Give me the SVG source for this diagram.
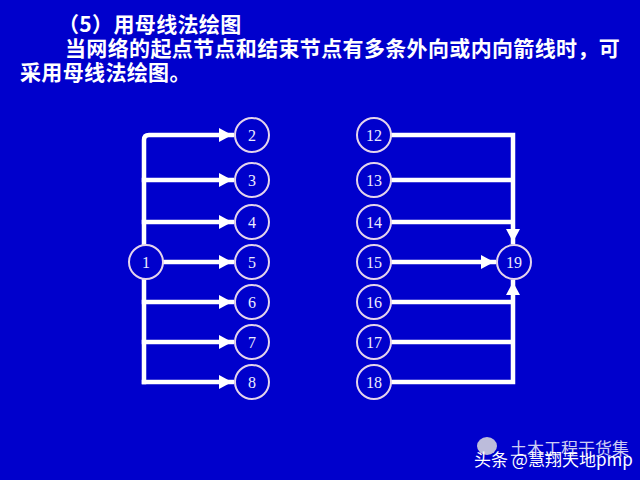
<svg xmlns="http://www.w3.org/2000/svg" width="640" height="480" viewBox="0 0 640 480">
<defs>
<style>
.t{font-family:"Noto Sans CJK SC",sans-serif;font-size:21px;fill:#ffffff;font-weight:bold;letter-spacing:0.35px}
.n circle{fill:#0000cc;stroke:#e4d4ec;stroke-width:2}
.n text{font-family:"Liberation Serif","DejaVu Serif",serif;font-size:16px;fill:#ececff;text-anchor:middle}
.c{stroke:#ffffff;stroke-width:4.5;fill:none;stroke-linecap:square}
.w{font-family:"Noto Sans CJK SC",sans-serif;font-size:17px;fill:#ffffff}
</style>
<marker id="ah" markerWidth="13" markerHeight="14" refX="13" refY="7" orient="auto" markerUnits="userSpaceOnUse">
<path d="M0,0 L13,7 L0,14 Z" fill="#ffffff"/>
</marker>
</defs>
<rect width="640" height="480" fill="#0000cc"/>
<text class="t" x="58" y="32">（5）用母线法绘图</text>
<text class="t" x="65" y="56">当网络的起点节点和结束节点有多条外向或内向箭线时，可</text>
<text class="t" x="20" y="80">采用母线法绘图。</text>
<g id="connectors">
<path class="c" d="M144,382 L144,140 Q144,135 149,135 L232,135" marker-end="url(#ah)"/>
<path class="c" d="M144,180 L232,180" marker-end="url(#ah)"/>
<path class="c" d="M144,222 L232,222" marker-end="url(#ah)"/>
<path class="c" d="M164,262 L232,262" marker-end="url(#ah)"/>
<path class="c" d="M144,302 L232,302" marker-end="url(#ah)"/>
<path class="c" d="M144,342 L232,342" marker-end="url(#ah)"/>
<path class="c" d="M144,382 L232,382" marker-end="url(#ah)"/>
<path class="c" d="M393,135 L513,135 L513,242" marker-end="url(#ah)"/>
<path class="c" d="M393,180 L511,180"/>
<path class="c" d="M393,222 L511,222"/>
<path class="c" d="M393,262 L494,262" marker-end="url(#ah)"/>
<path class="c" d="M393,302 L511,302"/>
<path class="c" d="M393,342 L511,342"/>
<path class="c" d="M393,382 L513,382 L513,282" marker-end="url(#ah)"/>
</g>
<g id="n1" class="n"><circle cx="146" cy="262" r="17"/><text x="146" y="268">1</text></g>
<g id="n2" class="n"><circle cx="252" cy="135" r="17"/><text x="252" y="141">2</text></g>
<g id="n3" class="n"><circle cx="252" cy="180" r="17"/><text x="252" y="186">3</text></g>
<g id="n4" class="n"><circle cx="252" cy="222" r="17"/><text x="252" y="228">4</text></g>
<g id="n5" class="n"><circle cx="252" cy="262" r="17"/><text x="252" y="268">5</text></g>
<g id="n6" class="n"><circle cx="252" cy="302" r="17"/><text x="252" y="308">6</text></g>
<g id="n7" class="n"><circle cx="252" cy="342" r="17"/><text x="252" y="348">7</text></g>
<g id="n8" class="n"><circle cx="252" cy="382" r="17"/><text x="252" y="388">8</text></g>
<g id="n12" class="n"><circle cx="374" cy="135" r="17"/><text x="374" y="141">12</text></g>
<g id="n13" class="n"><circle cx="374" cy="180" r="17"/><text x="374" y="186">13</text></g>
<g id="n14" class="n"><circle cx="374" cy="222" r="17"/><text x="374" y="228">14</text></g>
<g id="n15" class="n"><circle cx="374" cy="262" r="17"/><text x="374" y="268">15</text></g>
<g id="n16" class="n"><circle cx="374" cy="302" r="17"/><text x="374" y="308">16</text></g>
<g id="n17" class="n"><circle cx="374" cy="342" r="17"/><text x="374" y="348">17</text></g>
<g id="n18" class="n"><circle cx="374" cy="382" r="17"/><text x="374" y="388">18</text></g>
<g id="n19" class="n"><circle cx="514" cy="262" r="17"/><text x="514" y="268">19</text></g>
<g id="watermark">
<ellipse cx="487" cy="446" rx="10" ry="9" fill="#dddddd" opacity="0.85"/>
<text class="w" x="510" y="455" opacity="0.8">土木工程干货集</text>
<text class="w" x="474" y="466">头条 @慧翔天地pmp</text>
</g>
</svg>
